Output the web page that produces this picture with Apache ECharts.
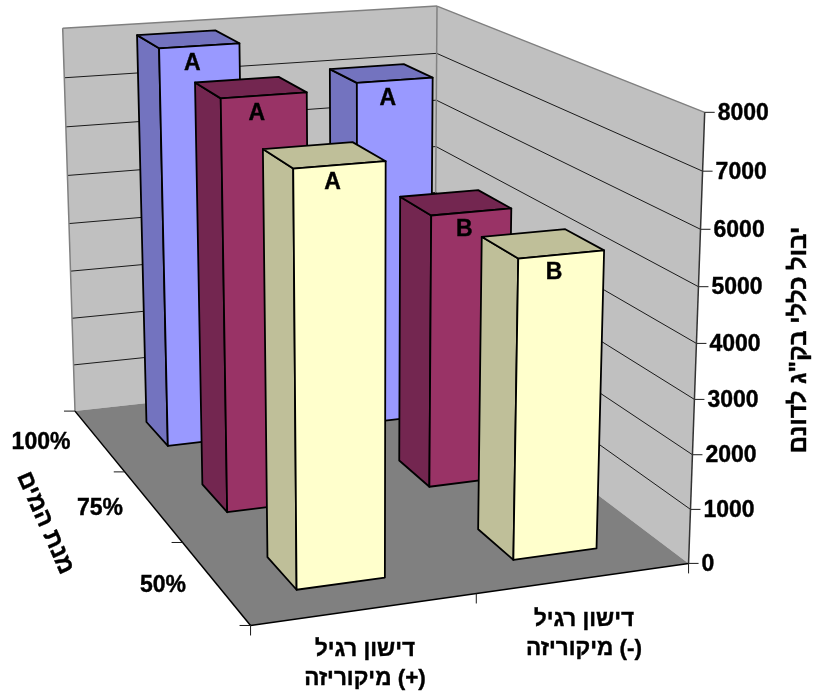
<!DOCTYPE html>
<html>
<head>
<meta charset="utf-8">
<style>html,body{margin:0;padding:0;background:#fff}#chart{width:813px;height:695px}</style>
<script src="https://cdn.jsdelivr.net/npm/echarts@6/dist/echarts.min.js"></script>
</head>
<body>
<div id="chart"></div>
<script>
// Yield data, one array per water level, ordered by fertilisation treatment
const fertilizerLabels = ['דישון רגיל\n\u200F(+) מיקוריזה', 'דישון רגיל\n\u200F(-) מיקוריזה'];
const waterLevels = ['50%', '75%', '100%'];
const valueTicks = [0, 1000, 2000, 3000, 4000, 5000, 6000, 7000, 8000];
const yield50 = [7320, 5450];
const yield75 = [7745, 5285];
const yield100 = [7980, 7050];
const letters50 = ['A', 'B'];
const letters75 = ['A', 'B'];
const letters100 = ['A', 'A'];
const valueTitle = 'יבול כללי בק"ג לדונם';
const depthTitle = 'מנת המים';

const FONT = 'bold 23px "Liberation Sans", Arial, sans-serif';
const TITLE_FONT = 'bold 24px "Liberation Sans", Arial, sans-serif';
const CATEGORY_FONT = 'bold 22.5px "Liberation Sans", Arial, sans-serif';
const BAR_SHARE = 0.4;

const faceColors = [
  { light: '#FFFFCC', dark: '#BFBF99' },
  { light: '#993366', dark: '#732650' },
  { light: '#9999FF', dark: '#7373BF' }
];

// Perspective camera: solved from where the box corners (u, v, w) should land on the page.
// The value edge and the front corner are listed more than once so the fit holds them tighter.
const cameraAnchors = [
  [0, 1, 0, 74, 412], [1, 1, 0, 436, 370], [1, 0, 0, 688, 564], [0, 0, 0, 251, 625],
  [0, 1, 1, 63, 28], [1, 1, 1, 436, 7], [1, 0, 1, 705, 112],
  [1, 0, 0, 688, 564], [1, 0, 1, 705, 112], [0, 0, 0, 251, 625],
  [1, 0, 0, 688, 564], [1, 0, 1, 705, 112]
];

function solveCamera(anchors) {
  const rows = [], rhs = [];
  anchors.forEach(([u, v, w, X, Y]) => {
    rows.push([u, v, w, 1, 0, 0, 0, 0, -X * u, -X * v, -X * w]); rhs.push(X);
    rows.push([0, 0, 0, 0, u, v, w, 1, -Y * u, -Y * v, -Y * w]); rhs.push(Y);
  });
  const n = 11;
  const M = [];
  for (let i = 0; i < n; i++) {
    M.push([]);
    for (let j = 0; j < n; j++) {
      let s = 0;
      rows.forEach(r => { s += r[i] * r[j]; });
      M[i].push(s);
    }
    let b = 0;
    rows.forEach((r, k) => { b += r[i] * rhs[k]; });
    M[i].push(b);
  }
  for (let c = 0; c < n; c++) {
    let p = c;
    for (let r = c + 1; r < n; r++) if (Math.abs(M[r][c]) > Math.abs(M[p][c])) p = r;
    [M[c], M[p]] = [M[p], M[c]];
    for (let r = 0; r < n; r++) {
      if (r === c) continue;
      const f = M[r][c] / M[c][c];
      for (let k = c; k <= n; k++) M[r][k] -= f * M[c][k];
    }
  }
  return M.map((row, i) => row[n] / row[i]);
}

const cam = solveCamera(cameraAnchors);
function project(u, v, w) {
  const d = cam[8] * u + cam[9] * v + cam[10] * w + 1;
  return [
    (cam[0] * u + cam[1] * v + cam[2] * w + cam[3]) / d,
    (cam[4] * u + cam[5] * v + cam[6] * w + cam[7]) / d
  ];
}

function poly(points, fill, stroke, lineWidth) {
  return {
    type: 'polygon',
    shape: { points },
    style: { fill, stroke: stroke || null, lineWidth: lineWidth || 0, lineJoin: 'round' }
  };
}
function seg(a, b, stroke, lineWidth) {
  return {
    type: 'line',
    shape: { x1: a[0], y1: a[1], x2: b[0], y2: b[1] },
    style: { stroke, lineWidth: lineWidth || 1, fill: null }
  };
}
// Text gets a hairline outline for the heavier weight of the labels
function label(text, x, y, extra) {
  return {
    type: 'text',
    x, y,
    rotation: (extra && extra.rotation) || 0,
    style: {
      text, x: 0, y: 0, fill: '#000', stroke: '#000', lineWidth: 0.4,
      font: (extra && extra.font) || FONT,
      align: (extra && extra.align) || 'center',
      verticalAlign: 'middle',
      lineHeight: (extra && extra.lineHeight) || undefined
    }
  };
}

// Walls, floor, gridlines, ticks and all axis text
function renderFrame(params, api) {
  const rect = params.coordSys;
  const children = [];
  const wOf = val => (rect.y + rect.height - api.coord([0, val])[1]) / rect.height;
  children.push(poly([project(0, 1, 0), project(1, 1, 0), project(1, 1, 1), project(0, 1, 1)], '#C0C0C0'));
  children.push(poly([project(1, 1, 0), project(1, 0, 0), project(1, 0, 1), project(1, 1, 1)], '#C0C0C0'));
  children.push(poly([project(0, 1, 0), project(1, 1, 0), project(1, 0, 0), project(0, 0, 0)], '#808080'));

  valueTicks.forEach(t => {
    const w = wOf(t);
    const edge = project(1, 0, w);
    if (t > 0 && t < valueTicks[valueTicks.length - 1]) {
      children.push(seg(project(0, 1, w), project(1, 1, w), '#1a1a1a', 1));
      children.push(seg(project(1, 1, w), edge, '#1a1a1a', 1));
    }
    children.push(seg(edge, [edge[0] + 10, edge[1]], '#1a1a1a', 1));
    children.push(label(String(t), edge[0] + 13, edge[1] + 1, { align: 'left' }));
  });

  // Wall outlines
  children.push(seg(project(0, 1, 0), project(0, 1, 1), '#808080', 1.5));
  children.push(seg(project(0, 1, 1), project(1, 1, 1), '#808080', 1.5));
  children.push(seg(project(1, 1, 1), project(1, 0, 1), '#808080', 1.5));
  children.push(seg(project(1, 1, 0), project(1, 1, 1), '#808080', 1.5));
  children.push(seg(project(1, 0, 0), project(1, 0, 1), '#333', 1.5));

  // Floor edges with their ticks
  children.push(seg(project(0, 1, 0), project(0, 0, 0), '#000', 1.5));
  children.push(seg(project(0, 0, 0), project(1, 0, 0), '#000', 1.5));
  waterLevels.concat(['']).forEach((name, i) => {
    const p = project(0, i / waterLevels.length, 0);
    children.push(seg(p, [p[0] - 11, p[1]], '#1a1a1a', 1));
  });
  fertilizerLabels.concat(['']).forEach((name, i) => {
    const p = project(i / fertilizerLabels.length, 0, 0);
    children.push(seg(p, [p[0], p[1] + 10], '#1a1a1a', 1));
  });

  // Category and depth labels
  const catSpots = [[365, 664], [584, 634]];
  fertilizerLabels.forEach((name, i) => {
    children.push(label(name, catSpots[i][0], catSpots[i][1], { font: CATEGORY_FONT, lineHeight: 29 }));
  });
  const depthSpots = [[163, 586], [100, 509], [41, 443]];
  waterLevels.forEach((name, i) => {
    children.push(label(name, depthSpots[i][0], depthSpots[i][1]));
  });

  children.push(label(valueTitle, 799, 340, { rotation: Math.PI / 2, font: TITLE_FONT }));
  children.push(label(depthTitle, 45, 523, { rotation: -66 * Math.PI / 180, font: TITLE_FONT }));

  return { type: 'group', children };
}

// One box per datum; its height comes from the hidden value axis, its width from the category band
function makeBarRenderer(depthIndex, letters) {
  const colors = faceColors[depthIndex];
  return function (params, api) {
    const rect = params.coordSys;
    const c = api.coord([api.value(0), api.value(1)]);
    const uC = (c[0] - rect.x) / rect.width;
    const half = api.size([1, 0])[0] * BAR_SHARE / 2 / rect.width;
    const w = (rect.y + rect.height - c[1]) / rect.height;
    const slot = 1 / waterLevels.length;
    const vC = (depthIndex + 0.5) * slot;
    const vHalf = slot * BAR_SHARE / 2;
    const u0 = uC - half, u1 = uC + half, v0 = vC - vHalf, v1 = vC + vHalf;
    const pen = '#000';
    const topFront = [project(u0, v0, w), project(u1, v0, w)];
    const anchor = [(topFront[0][0] + topFront[1][0]) / 2 - 7, (topFront[0][1] + topFront[1][1]) / 2 + 18];
    return {
      type: 'group',
      children: [
        poly([project(u0, v1, 0), project(u0, v0, 0), project(u0, v0, w), project(u0, v1, w)], colors.dark, pen, 1.8),
        poly([project(u0, v0, w), project(u1, v0, w), project(u1, v1, w), project(u0, v1, w)], colors.dark, pen, 1.8),
        poly([project(u0, v0, 0), project(u1, v0, 0), project(u1, v0, w), project(u0, v0, w)], colors.light, pen, 1.8),
        label(letters[params.dataIndex], anchor[0], anchor[1])
      ]
    };
  };
}

function barSeries(name, values, depthIndex, letters) {
  return {
    name,
    type: 'custom',
    coordinateSystem: 'cartesian2d',
    renderItem: makeBarRenderer(depthIndex, letters),
    encode: { x: 0, y: 1 },
    data: values.map((v, i) => [i, v]),
    silent: true,
    animation: false
  };
}

const chart = echarts.init(document.getElementById('chart'), null, { renderer: 'canvas' });
chart.setOption({
  animation: false,
  backgroundColor: '#fff',
  grid: { left: 0, right: 0, top: 0, bottom: 0 },
  xAxis: { type: 'category', data: fertilizerLabels, show: false },
  yAxis: { type: 'value', min: 0, max: 8000, interval: 1000, show: false },
  series: [
    {
      name: 'frame',
      type: 'custom',
      coordinateSystem: 'cartesian2d',
      renderItem: renderFrame,
      encode: { x: 0, y: 1 },
      data: [[0, 0]],
      silent: true,
      animation: false
    },
    barSeries(waterLevels[2], yield100, 2, letters100),
    barSeries(waterLevels[1], yield75, 1, letters75),
    barSeries(waterLevels[0], yield50, 0, letters50)
  ]
});
</script>
</body>
</html>
